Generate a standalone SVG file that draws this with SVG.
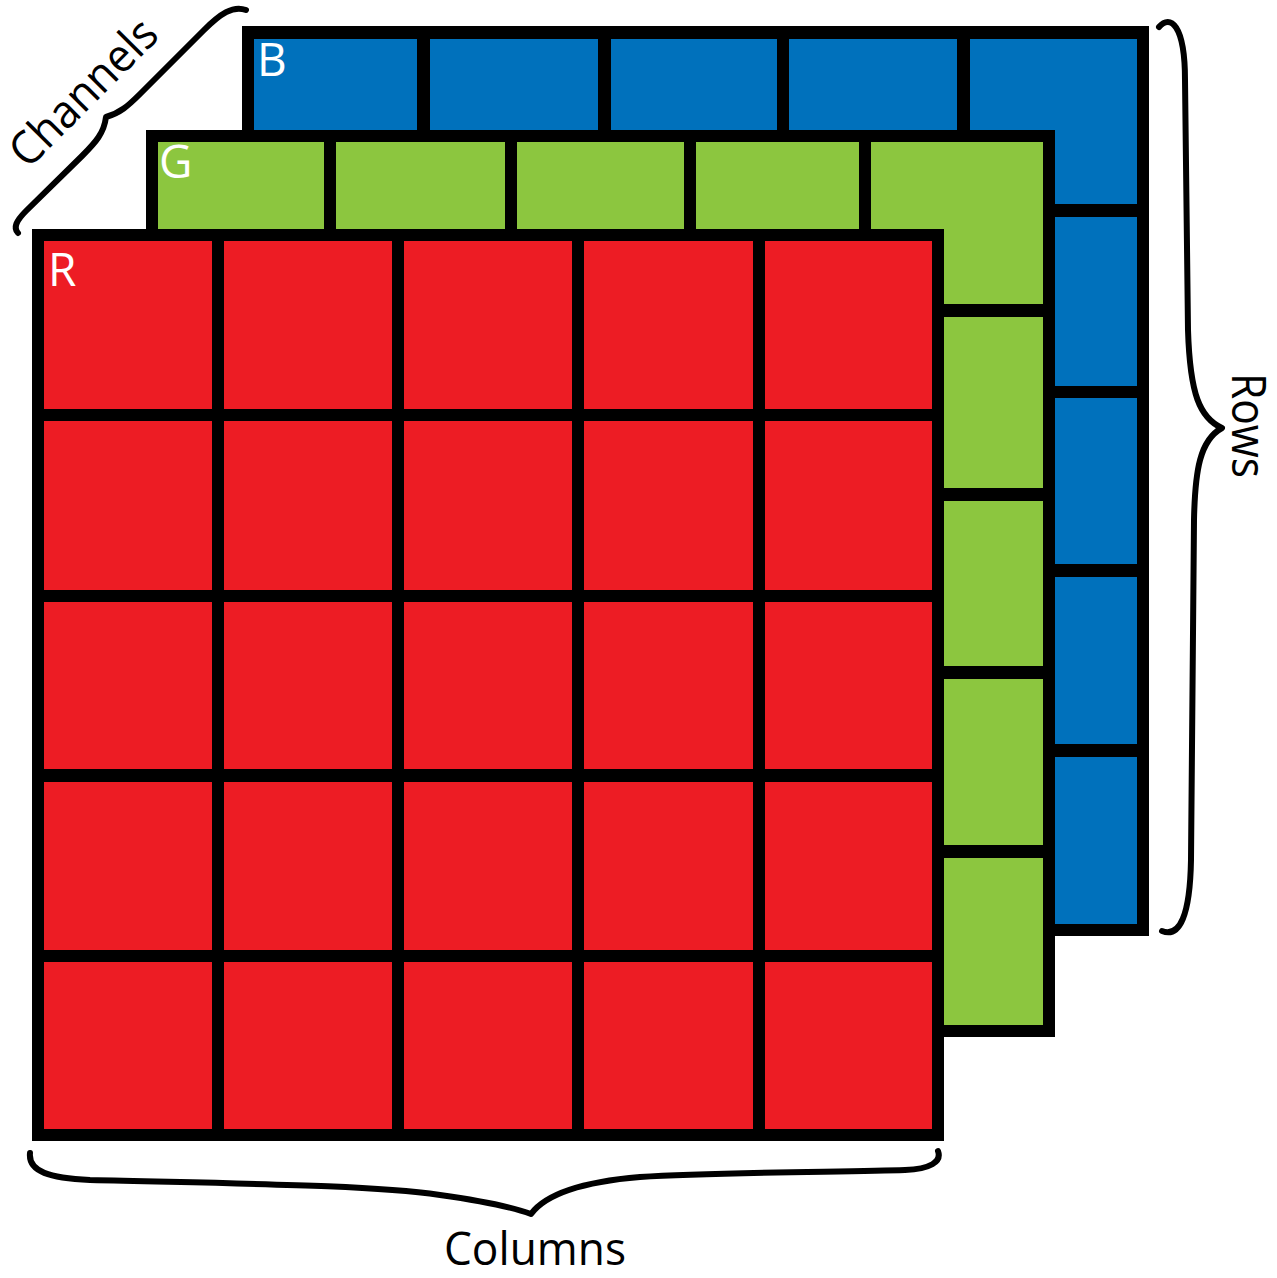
<svg xmlns="http://www.w3.org/2000/svg" width="1277" height="1278" viewBox="0 0 1277 1278">
<style>
.k{fill:#000}
.b{fill:#0071BC}
.g{fill:#8CC63F}
.r{fill:#ED1C24}
.lbl{font-family:"Open Sans","Noto Sans","Liberation Sans",sans-serif;font-size:46px;fill:#fff}
.cap{font-family:"Open Sans","Noto Sans","Liberation Sans",sans-serif;font-size:46px;fill:#000}
.brace{fill:none;stroke:#000;stroke-width:6;stroke-linecap:round;stroke-linejoin:round}
</style>
<rect width="1277" height="1278" fill="#fff"/>
<g id="channel-B">
<rect class="k" x="242" y="26" width="907" height="910"/>
<rect class="b" x="254" y="39" width="163" height="165"/>
<rect class="b" x="430" y="39" width="168" height="165"/>
<rect class="b" x="611" y="39" width="166" height="165"/>
<rect class="b" x="789" y="39" width="168" height="165"/>
<rect class="b" x="970" y="39" width="167" height="165"/>
<rect class="b" x="970" y="217" width="167" height="169"/>
<rect class="b" x="970" y="398" width="167" height="166"/>
<rect class="b" x="970" y="577" width="167" height="167"/>
<rect class="b" x="970" y="757" width="167" height="167"/>
<text class="lbl" x="257" y="76">B</text>
</g>
<g id="channel-G">
<rect class="k" x="146" y="130" width="909" height="907"/>
<rect class="g" x="158" y="142" width="166" height="162"/>
<rect class="g" x="336" y="142" width="169" height="162"/>
<rect class="g" x="517" y="142" width="167" height="162"/>
<rect class="g" x="696" y="142" width="163" height="162"/>
<rect class="g" x="871" y="142" width="172" height="162"/>
<rect class="g" x="871" y="317" width="172" height="171"/>
<rect class="g" x="871" y="501" width="172" height="165"/>
<rect class="g" x="871" y="679" width="172" height="166"/>
<rect class="g" x="871" y="858" width="172" height="167"/>
<text class="lbl" x="159" y="178">G</text>
</g>
<g id="channel-R">
<rect class="k" x="32" y="229" width="912" height="912"/>
<rect class="r" x="44" y="241" width="168" height="168"/>
<rect class="r" x="224" y="241" width="168" height="168"/>
<rect class="r" x="404" y="241" width="168" height="168"/>
<rect class="r" x="584" y="241" width="169" height="168"/>
<rect class="r" x="765" y="241" width="167" height="168"/>
<rect class="r" x="44" y="421" width="168" height="169"/>
<rect class="r" x="224" y="421" width="168" height="169"/>
<rect class="r" x="404" y="421" width="168" height="169"/>
<rect class="r" x="584" y="421" width="169" height="169"/>
<rect class="r" x="765" y="421" width="167" height="169"/>
<rect class="r" x="44" y="602" width="168" height="167"/>
<rect class="r" x="224" y="602" width="168" height="167"/>
<rect class="r" x="404" y="602" width="168" height="167"/>
<rect class="r" x="584" y="602" width="169" height="167"/>
<rect class="r" x="765" y="602" width="167" height="167"/>
<rect class="r" x="44" y="782" width="168" height="168"/>
<rect class="r" x="224" y="782" width="168" height="168"/>
<rect class="r" x="404" y="782" width="168" height="168"/>
<rect class="r" x="584" y="782" width="169" height="168"/>
<rect class="r" x="765" y="782" width="167" height="168"/>
<rect class="r" x="44" y="962" width="168" height="167"/>
<rect class="r" x="224" y="962" width="168" height="167"/>
<rect class="r" x="404" y="962" width="168" height="167"/>
<rect class="r" x="584" y="962" width="169" height="167"/>
<rect class="r" x="765" y="962" width="167" height="167"/>
<text class="lbl" x="48" y="286">R</text>
</g>
<g id="braces">
<path class="brace" d="M 18,233 C 13,228 16,221 26,211 L 82,156 C 96,142 104,133 106,117 C 120,113 128,106 140,94 L 204,30 C 220,14 233,5 246,10"/>
<path class="brace" d="M 1159,27 C 1170,14 1185,24 1185,80 L 1188,330 C 1190,395 1200,418 1222,428 C 1200,440 1195,470 1194,520 L 1191,860 C 1190,915 1180,938 1162,931"/>
<path class="brace" d="M 30,1153 C 28,1172 50,1178 90,1180 C 250,1184 370,1185 440,1195 C 490,1202 520,1210 531,1214 C 545,1195 580,1182 640,1177 C 720,1172 850,1172 905,1170 C 930,1169 942,1162 938,1151"/>
</g>
<g id="captions">
<text class="cap" transform="translate(28,170) rotate(-45)" textLength="188" lengthAdjust="spacingAndGlyphs">Channels</text>
<text class="cap" transform="translate(1232,373) rotate(90)" style="font-size:47px" textLength="105" lengthAdjust="spacingAndGlyphs">Rows</text>
<text class="cap" x="444" y="1265" textLength="182" lengthAdjust="spacingAndGlyphs">Columns</text>
</g>
</svg>
